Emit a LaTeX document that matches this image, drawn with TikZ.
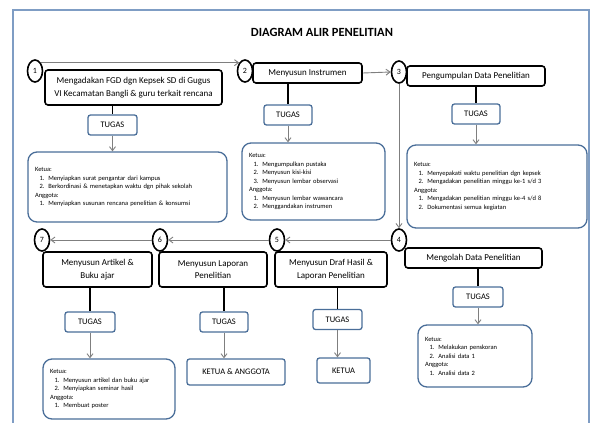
\documentclass[tikz,border=0pt]{standalone}
\usepackage{fontspec}
\setmainfont{Carlito}
\usepackage{tikz}
\usetikzlibrary{arrows.meta, shapes.geometric}
\definecolor{framegray}{HTML}{7F9DC4}
\definecolor{taskblue}{HTML}{4A6E99}
\definecolor{arrgray}{HTML}{7F7F7F}
\newcommand{\itm}[2]{\hspace*{0.7em}#1.\hspace{0.6em}#2}

\begin{document}
\begin{tikzpicture}[
  x=1pt, y=-1pt,
  stepbox/.style={rectangle, rounded corners=3pt, draw=black, fill=white, line width=1.6pt, minimum width=#1, minimum height=20pt, align=center, font=\fontsize{9}{12.5}\selectfont, inner sep=2pt},
  numcirc/.style={ellipse, draw=black, fill=white, line width=1.6pt, minimum width=15pt, minimum height=22pt, inner sep=0pt, font=\fontsize{8}{8}\selectfont},
  taskbox/.style={rectangle, rounded corners=2.5pt, draw=taskblue, fill=white, line width=1.3pt, minimum width=#1, minimum height=20pt, font=\fontsize{8.5}{10}\selectfont, inner sep=1pt},
  notebox/.style={rectangle, rounded corners=9pt, draw=taskblue, fill=white, line width=1.3pt, text width=#1, align=left, inner xsep=7pt, font=\fontsize{6.5}{8.5}\selectfont},
  arr/.style={-{Straight Barb[length=4pt, width=6pt]}, arrgray, line width=0.9pt},
  link/.style={black, line width=1.8pt},
]
  \useasboundingbox (0,0) rectangle (595,423);
  \draw[framegray, line width=1.5pt] (13,10) rectangle (589,440);

  % Title
  \node[font=\fontsize{12.5}{14}\selectfont\bfseries] (title) at (322,32) {DIAGRAM ALIR PENELITIAN};

  % Steps
  \node[stepbox=177, minimum height=35] (b1) at (133.5,87.5) {Mengadakan FGD dgn Kepsek SD di Gugus\\VI Kecamatan Bangli \& guru terkait rencana};
  \node[stepbox=109] (b2) at (307.5,73) {Menyusun Instrumen};
  \node[stepbox=138] (b3) at (476,76) {Pengumpulan Data Penelitian};
  \node[stepbox=137] (b4) at (473.5,258) {Mengolah Data Penelitian};
  \node[stepbox=112, minimum height=35] (b5) at (331,269.5) {Menyusun Draf Hasil \&\\Laporan Penelitian};
  \node[stepbox=108, minimum height=35] (b6) at (213,269.5) {Menyusun Laporan\\Penelitian};
  \node[stepbox=109, minimum height=35] (b7) at (97.5,269.5) {Menyusun Artikel \&\\Buku ajar};

  % Numbers
  \node[numcirc] (c1) at (35,71) {1};
  \node[numcirc] (c2) at (245,71) {2};
  \node[numcirc] (c3) at (399,72) {3};
  \node[numcirc] (c4) at (399,240) {4};
  \node[numcirc] (c5) at (277,240) {5};
  \node[numcirc] (c6) at (160,240) {6};
  \node[numcirc] (c7) at (42,240) {7};

  \draw[arr] (c1.north east) -- (c2.north west);
  \draw[arr] (b2.east) -- (c3.west);
  \draw[arr] (c3.south) -- (c4.north);
  \draw[arr] (c4.west) -- (c5.east);
  \draw[arr] (c5.west) -- (c6.east);
  \draw[arr] (c6.west) -- (c7.east);

  % Tasks
  \node[taskbox=49] (t1) at (112.5,125) {TUGAS};
  \node[taskbox=48] (t2) at (288,115) {TUGAS};
  \node[taskbox=48] (t3) at (476,114) {TUGAS};
  \node[taskbox=50] (t4) at (478,297) {TUGAS};
  \node[taskbox=49] (t5) at (337.5,319.5) {TUGAS};
  \node[taskbox=48] (t6) at (224,322) {TUGAS};
  \node[taskbox=50] (t7) at (90,322) {TUGAS};

  \foreach \i in {1,...,7}
    \draw[link] (t\i.north |- b\i.south) -- (t\i.north);

  % Notes
  \node[notebox=185, minimum height=70] (d1) at (127.5,187) {Ketua:\\
    \itm{1}{Menyiapkan surat pengantar dari kampus}\\
    \itm{2}{Berkordinasi \& menetapkan waktu dgn pihak sekolah}\\
    Anggota:\\
    \itm{1}{Menyiapkan susunan rencana penelitian \& konsumsi}};
  \node[notebox=129, minimum height=77] (d2) at (313.5,181.5) {Ketua:\\
    \itm{1}{Mengumpulkan pustaka}\\
    \itm{2}{Menyusun kisi-kisi}\\
    \itm{3}{Menyusun lembar observasi}\\
    Anggota:\\
    \itm{1}{Menyusun lembar wawancara}\\
    \itm{2}{Menggandakan instrumen}};
  \node[notebox=166, minimum height=83] (d3) at (497,186.5) {Ketua:\\
    \itm{1}{Menyepakati waktu penelitian dgn kepsek}\\
    \itm{2}{Mengadakan penelitian minggu ke-1 s/d 3}\\
    Anggota:\\
    \itm{1}{Mengadakan penelitian minggu ke-4 s/d 8}\\
    \itm{2}{Dokumentasi semua kegiatan}};
  \node[notebox=100, minimum height=62] (d4) at (475,356) {Ketua:\\
    \itm{1}{Melakukan penskoran}\\
    \itm{2}{Analisi data 1}\\
    Anggota:\\
    \itm{1}{Analisi data 2}};
  \node[taskbox=53, minimum height=25] (d5) at (343.5,370.5) {KETUA};
  \node[taskbox=98, minimum height=26] (d6) at (236,372) {KETUA \& ANGGOTA};
  \node[notebox=118, minimum height=60] (d7) at (109,389) {Ketua:\\
    \itm{1}{Menyusun artikel dan buku ajar}\\
    \itm{2}{Menyiapkan seminar hasil}\\
    Anggota:\\
    \itm{1}{Membuat poster}};

  \foreach \i in {1,...,7}
    \draw[arr] (t\i.south) -- (t\i.south |- d\i.north);
\end{tikzpicture}
\end{document}
